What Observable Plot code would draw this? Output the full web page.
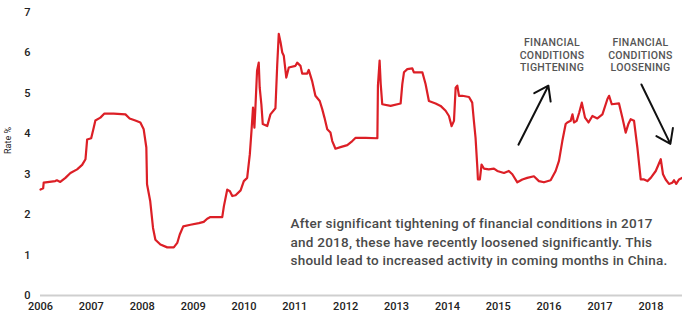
<!DOCTYPE html>
<html>
<head>
<meta charset="utf-8">
<script src="https://cdn.jsdelivr.net/npm/d3@7"></script>
<script src="https://cdn.jsdelivr.net/npm/@observablehq/plot@0.6"></script>
<style>
  html, body { margin: 0; padding: 0; background: #fff; }
  #chart svg { display: block; }
</style>
</head>
<body>
<div id="chart"></div>
<script>
const dates = [
  "2006-01-01","2006-01-20","2006-01-24","2006-04-17","2006-04-29","2006-05-23","2006-06-29","2006-08-04","2006-09-21","2006-10-27",
  "2006-11-20","2006-12-02","2006-12-31","2007-01-18","2007-01-30","2007-03-07","2007-04-05","2007-06-10","2007-09-03","2007-10-03",
  "2007-11-13","2007-12-19","2008-01-12","2008-01-31","2008-02-05","2008-02-28","2008-03-19","2008-04-05","2008-05-11","2008-06-29",
  "2008-08-15","2008-09-09","2008-09-27","2008-10-22","2008-12-13","2009-02-11","2009-03-18","2009-04-12","2009-05-05","2009-07-29",
  "2009-08-10","2009-09-03","2009-09-22","2009-10-09","2009-11-02","2009-12-08","2009-12-31","2010-01-24","2010-02-12","2010-02-24",
  "2010-03-07","2010-03-17","2010-03-24","2010-04-05","2010-04-17","2010-04-24","2010-05-06","2010-05-16","2010-06-17","2010-07-10",
  "2010-08-15","2010-08-28","2010-09-08","2010-09-21","2010-10-03","2010-10-14","2010-11-01","2010-11-19","2011-01-06","2011-01-18",
  "2011-02-11","2011-02-23","2011-03-31","2011-04-11","2011-05-05","2011-05-29","2011-06-29","2011-07-17","2011-08-02","2011-08-22",
  "2011-09-14","2011-09-27","2011-10-20","2011-11-25","2012-01-13","2012-02-18","2012-03-13","2012-05-24","2012-08-16","2012-08-20",
  "2012-09-01","2012-09-09","2012-09-20","2012-11-19","2013-01-30","2013-02-11","2013-02-23","2013-03-19","2013-04-24","2013-05-05",
  "2013-07-05","2013-07-28","2013-08-21","2013-10-08","2013-11-13","2013-12-19","2014-01-12","2014-01-31","2014-02-17","2014-03-01",
  "2014-03-13","2014-03-25","2014-04-18","2014-06-05","2014-06-28","2014-07-10","2014-07-22","2014-08-04","2014-08-08","2014-08-22",
  "2014-09-03","2014-09-20","2014-10-25","2014-12-01","2014-12-25","2015-02-11","2015-03-18","2015-04-12","2015-05-18","2015-06-23",
  "2015-07-28","2015-09-14","2015-10-20","2015-11-25","2016-01-12","2016-02-17","2016-03-12","2016-04-05","2016-04-29","2016-05-11",
  "2016-06-04","2016-06-17","2016-06-28","2016-07-17","2016-08-04","2016-08-23","2016-09-15","2016-10-10","2016-11-07","2016-12-13",
  "2017-01-18","2017-02-23","2017-03-07","2017-03-26","2017-05-17","2017-06-10","2017-07-04","2017-07-23","2017-08-09","2017-09-02",
  "2017-09-26","2017-10-20","2017-11-13","2017-12-07","2017-12-31","2018-02-05","2018-03-13","2018-03-29","2018-04-17","2018-05-11",
  "2018-06-04","2018-06-16","2018-07-02","2018-07-22","2018-08-15"
];
const rates = [
  2.62,2.65,2.79,2.83,2.85,2.81,2.91,3.03,3.12,3.23,
  3.37,3.86,3.89,4.15,4.33,4.40,4.50,4.50,4.48,4.38,
  4.33,4.28,4.11,3.66,2.75,2.33,1.67,1.38,1.26,1.19,
  1.19,1.30,1.51,1.71,1.75,1.79,1.82,1.90,1.94,1.94,
  2.21,2.62,2.58,2.46,2.48,2.60,2.83,2.91,3.49,4.07,
  4.65,4.15,4.63,5.56,5.76,5.14,4.73,4.24,4.19,4.48,
  4.63,5.72,6.47,6.26,6.01,5.93,5.39,5.64,5.68,5.76,
  5.68,5.49,5.49,5.58,5.31,4.94,4.81,4.61,4.40,4.11,
  4.03,3.82,3.63,3.67,3.72,3.82,3.90,3.90,3.89,5.19,
  5.81,5.23,4.73,4.69,4.75,5.23,5.52,5.60,5.62,5.52,
  5.52,5.23,4.81,4.75,4.69,4.57,4.44,4.19,4.32,5.14,
  5.19,4.94,4.94,4.91,4.77,4.32,3.90,3.16,2.87,2.87,
  3.24,3.14,3.12,3.14,3.08,3.03,3.08,3.00,2.80,2.87,
  2.91,2.95,2.83,2.80,2.85,3.08,3.33,3.82,4.24,4.28,
  4.32,4.48,4.28,4.32,4.52,4.77,4.40,4.28,4.44,4.38,
  4.48,4.86,4.94,4.73,4.75,4.40,4.03,4.24,4.36,4.32,
  3.66,2.87,2.87,2.83,2.91,3.08,3.37,3.00,2.87,2.76,
  2.79,2.85,2.76,2.87,2.91
];
const yTicks = [0, 1, 2, 3, 4, 5, 6, 7];
const xTickYears = [2006, 2007, 2008, 2009, 2010, 2011, 2012, 2013, 2014, 2015, 2016, 2017, 2018];
const yLabel = "Rate %";
const noteText = "After significant tightening of financial conditions in 2017\nand 2018, these have recently loosened significantly. This\nshould lead to increased activity in coming months in China.";
const calloutTexts = ["FINANCIAL\nCONDITIONS\nTIGHTENING", "FINANCIAL\nCONDITIONS\nLOOSENING"];

const parse = d3.utcParse("%Y-%m-%d");
const series = dates.map((d, i) => ({date: parse(d), rate: rates[i]}));

// annotation anchors (in data space)
const callouts = [
  {date: parse("2016-01-22"), rate: 5.96, text: calloutTexts[0]},
  {date: parse("2017-10-18"), rate: 5.96, text: calloutTexts[1]}
];
const arrows = [
  {x1: parse("2015-05-26"), y1: 3.73, x2: parse("2015-12-27"), y2: 5.19},
  {x1: parse("2017-10-25"), y1: 5.22, x2: parse("2018-05-21"), y2: 3.75}
];
const note = [{date: parse("2010-12-01"), rate: 1.35, text: noteText}];

const font = "Roboto, 'Noto Sans', sans-serif";

const chart = Plot.plot({
  width: 682,
  height: 316,
  marginLeft: 40,
  marginRight: 0,
  marginTop: 12,
  marginBottom: 21,
  style: {fontFamily: font, fontSize: "11px", color: "#222", background: "#fff"},
  x: {type: "utc", domain: [parse("2006-01-01"), parse("2018-08-16")]},
  y: {domain: [0, 7]},
  marks: [
    Plot.axisX({ticks: xTickYears.map(y => new Date(Date.UTC(y, 0, 1))), tickFormat: d3.utcFormat("%Y"), tickSize: 0, tickPadding: 7, label: null, fontSize: 11, fontWeight: 500, fill: "#222"}),
    Plot.axisY({ticks: yTicks, tickFormat: d3.format("d"), tickSize: 0, tickPadding: 10, label: null, fontSize: 11, fontWeight: 500, fill: "#222"}),
    Plot.text([yLabel], {frameAnchor: "left", rotate: -90, dx: -32, fontSize: 9, fill: "#222", text: d => d}),
    Plot.ruleY([0], {stroke: "#cfcfcf", strokeWidth: 2}),
    Plot.line(series, {x: "date", y: "rate", stroke: "#dc1f26", strokeWidth: 2.2, curve: "linear"}),
    Plot.text(note, {x: "date", y: "rate", text: "text", textAnchor: "start", lineAnchor: "middle", lineHeight: 1.38, fontSize: 13.5, fontWeight: 500, fill: "#4a4a4a"}),
    Plot.text(callouts, {x: "date", y: "rate", text: "text", textAnchor: "middle", lineAnchor: "middle", lineHeight: 1.2, fontSize: 10.5, fontWeight: 500, fill: "#555"}),
    Plot.arrow(arrows, {x1: "x1", y1: "y1", x2: "x2", y2: "y2", stroke: "#111", strokeWidth: 2, headLength: 12, headAngle: 70, insetEnd: 0, insetStart: 0})
  ]
});
// letter spacing for the annotation texts (DIN-like tracking)
d3.select(chart).selectAll("g[font-size='13.5']").attr("letter-spacing", "0.25");
d3.select(chart).selectAll("g[font-size='10.5']").attr("letter-spacing", "0.3");
document.getElementById("chart").appendChild(chart);
</script>
</body>
</html>
